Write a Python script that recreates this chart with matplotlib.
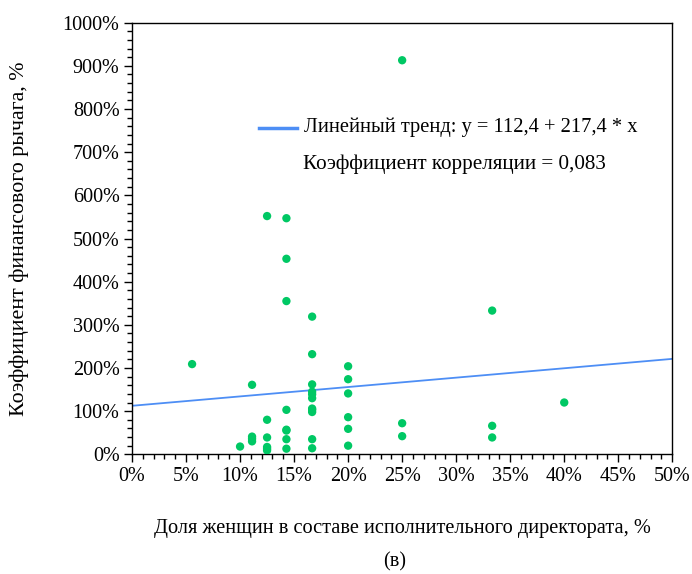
import matplotlib
matplotlib.use("Agg")
import matplotlib.pyplot as plt
from matplotlib.ticker import MultipleLocator, FuncFormatter
import numpy as np

# Data: share of women in executive board (%) vs financial leverage (%)
share_women = [
    5.56,
    10.0,
    11.11, 11.11, 11.11, 11.11,
    12.5, 12.5, 12.5, 12.5, 12.5, 12.5,
    14.29, 14.29, 14.29, 14.29, 14.29, 14.29, 14.29, 14.29,
    16.67, 16.67, 16.67, 16.67, 16.67, 16.67, 16.67, 16.67, 16.67, 16.67, 16.67,
    20.0, 20.0, 20.0, 20.0, 20.0, 20.0,
    25.0, 25.0, 25.0,
    33.33, 33.33, 33.33,
    40.0,
]
leverage = [
    209,
    18,
    161, 41, 36, 30,
    552, 80, 39, 17, 13, 9,
    547, 453, 355, 103, 57, 55, 35, 13,
    319, 232, 162, 145, 139, 130, 106, 103, 98, 35, 14,
    204, 174, 141, 86, 59, 20,
    913, 72, 42,
    333, 66, 39,
    120,
]

trend_intercept = 112.4
trend_slope = 217.4
trend_label = "Линейный тренд: y = 112,4 + 217,4 * x"
corr_label = "Коэффициент корреляции = 0,083"
xlabel = "Доля женщин в составе исполнительного директората, %"
ylabel = "Коэффициент финансового рычага, %"
caption = "(в)"

plt.rcParams['font.family'] = ['Liberation Serif', 'DejaVu Serif']

fig = plt.figure(figsize=(6.92, 5.74), dpi=100)
ax = fig.add_axes([132/692, 1-454.3/574, (672.3-132)/692, (454.3-22.7)/574])

xs = np.array([0, 50])
ax.plot(xs, trend_intercept + trend_slope * xs / 100, color="#4d8ef5", lw=1.3, zorder=2)
ax.scatter(share_women, leverage, s=36, color="#00c864", edgecolors="none", zorder=3)

ax.set_xlim(0, 50)
ax.set_ylim(0, 1000)
ax.xaxis.set_major_locator(MultipleLocator(5))
ax.xaxis.set_minor_locator(MultipleLocator(1))
ax.yaxis.set_major_locator(MultipleLocator(100))
ax.yaxis.set_minor_locator(MultipleLocator(20))
pct = FuncFormatter(lambda v, p: f"{v:.0f}%")
ax.xaxis.set_major_formatter(pct)
ax.yaxis.set_major_formatter(pct)
ax.tick_params(which="major", length=6, width=1, labelsize=14.5, direction="out", pad=3)
ax.tick_params(which="minor", length=3.5, width=1, direction="out")
for s in ax.spines.values():
    s.set_linewidth(1)

ax.set_xlabel(xlabel, fontsize=14.7, labelpad=24)
ax.set_ylabel(ylabel, fontsize=15.8, labelpad=24)

# Legend-like annotations
ax.plot([0.235, 0.305], [0.757, 0.757], transform=ax.transAxes, color="#4d8ef5", lw=2.5)
ax.text(0.318, 0.757, trend_label, transform=ax.transAxes, fontsize=14.8, va="center", ha="left")
ax.text(0.316, 0.671, corr_label, transform=ax.transAxes, fontsize=15.2, va="center", ha="left")

fig.text(395/692, 1-562/574, caption, fontsize=14.5, ha="center", va="center")

fig.savefig("out.png", dpi=100)
